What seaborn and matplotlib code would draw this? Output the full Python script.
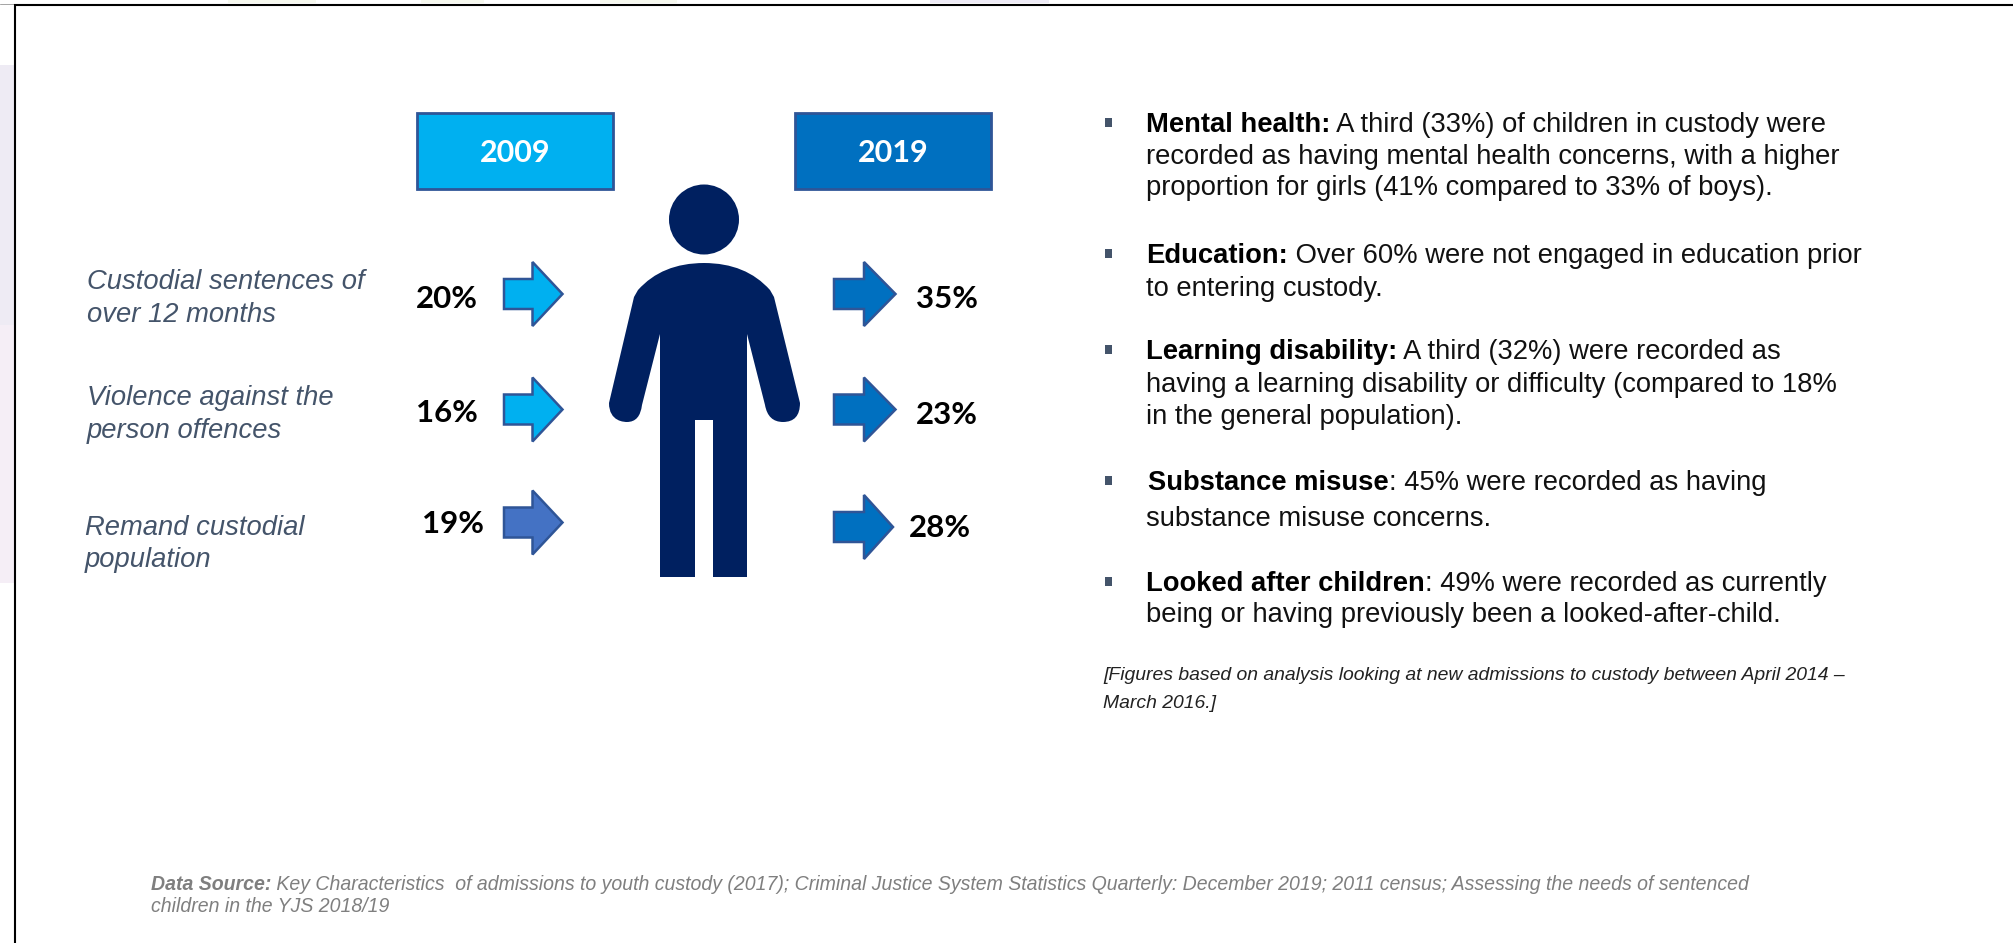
import matplotlib
matplotlib.use("Agg")
import matplotlib.pyplot as plt
from matplotlib.patches import Circle, PathPatch, Polygon, Rectangle
from matplotlib.path import Path
import seaborn as sns

# Custody profile figures
years = ["2009", "2019"]
row_labels = [
    ["Custodial sentences of", "over 12 months"],
    ["Violence against the", "person offences"],
    ["Remand custodial", "population"],
]
share_2009 = [20, 16, 19]
share_2019 = [35, 23, 28]

# Needs of children in custody: (bold lead, rest of line), then wrapped lines
needs_text = [
    [("Mental health:", " A third (33%) of children in custody were"),
     ("", "recorded as having mental health concerns, with a higher"),
     ("", "proportion for girls (41% compared to 33% of boys).")],
    [("Education:", " Over 60% were not engaged in education prior"),
     ("", "to entering custody.")],
    [("Learning disability:", " A third (32%) were recorded as"),
     ("", "having a learning disability or difficulty (compared to 18%"),
     ("", "in the general population).")],
    [("Substance misuse", ": 45% were recorded as having"),
     ("", "substance misuse concerns.")],
    [("Looked after children", ": 49% were recorded as currently"),
     ("", "being or having previously been a looked-after-child.")],
]
needs_y = [[124, 156, 187], [255, 288], [351, 384, 416], [482, 518], [583, 614]]
footnote = ["[Figures based on analysis looking at new admissions to custody between April 2014 \u2013",
            "March 2016.]"]
source_lead = "Data Source:"
source_lines = [" Key Characteristics  of admissions to youth custody (2017); Criminal Justice System Statistics Quarterly: December 2019; 2011 census; Assessing the needs of sentenced",
                "children in the YJS 2018/19"]

sns.set_theme(style="white")
plt.rcParams["font.family"] = ["Liberation Sans", "DejaVu Sans"]
light_blue, mid_blue, slate_blue, navy, edge_blue = sns.color_palette(
    ["#00B0F0", "#0070C0", "#4472C4", "#002060", "#2F5597"])

W, H = 2013, 943
fig = plt.figure(figsize=(W / 100, H / 100), dpi=100, facecolor="white")
ax = fig.add_axes([0, 0, 1, 1])
ax.set_xlim(0, W)
ax.set_ylim(H, 0)
ax.axis("off")
PX = 0.72  # points per pixel at this dpi


def write(x, y, s, size, **kw):
    kw.setdefault("va", "center")
    return ax.text(x, y, s, fontsize=size * PX, **kw)


def arrow(x0, x1, xm, yc, half, shaft, face):
    pts = [(x0, yc - shaft), (xm, yc - shaft), (xm, yc - half), (x1, yc),
           (xm, yc + half), (xm, yc + shaft), (x0, yc + shaft)]
    ax.add_patch(Polygon(pts, closed=True, facecolor=face, edgecolor=edge_blue, linewidth=1.8))


# Faint page behind the frame, then the frame itself
ax.add_patch(Rectangle((0, 65), 14, 260, facecolor="#EEEBF4", edgecolor="none"))
ax.add_patch(Rectangle((0, 325), 14, 258, facecolor="#F5EEF6", edgecolor="none"))
for x0, x1, tint in [(228, 316, "#F6F8EE"), (421, 484, "#F6F8EE"),
                     (600, 677, "#F6F8EE"), (930, 1049, "#EEEBF6")]:
    ax.add_patch(Rectangle((x0, 0), x1 - x0, 3, facecolor=tint, edgecolor="none"))
ax.plot([0, W], [3.5, 3.5], color="#A6A6A6", linewidth=0.72)
ax.plot([15, 15, W], [H, 5, 5], color="black", linewidth=1.5, solid_joinstyle="miter")

# Year headers
for x0, year, face in zip([417, 795], years, [light_blue, mid_blue]):
    ax.add_patch(Rectangle((x0, 113), 196, 76, facecolor=face, edgecolor=edge_blue, linewidth=2))
    write(x0 + 98, 153, year, 30.5, family="Lato", weight="bold", color="white", ha="center")

# Person icon
ax.add_patch(Circle((704, 219.5), 35, facecolor=navy, edgecolor="none"))
M, L, C3, C4, Z = Path.MOVETO, Path.LINETO, Path.CURVE3, Path.CURVE4, Path.CLOSEPOLY
body = [
    ((704, 263), M),
    ((662, 263), C3), ((638, 290), C3),
    ((634, 297), L), ((609, 403), L),
    ((609, 422), C4), ((625, 422), C4), ((627, 422), C4),
    ((640, 422), C3), ((642, 405), C3),
    ((660, 334), L), ((660, 577), L), ((695, 577), L), ((695, 420), L),
    ((713, 420), L), ((713, 577), L), ((747, 577), L), ((747, 334), L),
    ((765, 405), L),
    ((768, 422), C3), ((783, 422), C3),
    ((800, 422), C3), ((800, 403), C3),
    ((774, 297), L), ((770, 290), L),
    ((746, 263), C3), ((704, 263), C3),
    ((704, 263), Z),
]
ax.add_patch(PathPatch(Path([p for p, _ in body], [c for _, c in body]),
                       facecolor=navy, edgecolor="none"))

# Row labels, percentages and arrows
label_x = [87, 87, 85]
label_y = [(282, 315), (398, 431), (528, 560)]
for lines, x, ys in zip(row_labels, label_x, label_y):
    for line, y in zip(lines, ys):
        write(x, y, line, 27.4, style="italic", color="#44546A")

left_y = [294, 409.5, 522.5]
left_face = [light_blue, light_blue, slate_blue]
left_text = [(416, 299), (416, 413), (422, 524)]
for value, yc, face, (tx, ty) in zip(share_2009, left_y, left_face, left_text):
    arrow(504, 562.5, 532.5, yc, 32, 15, face)
    write(tx, ty, f"{value}%", 31.3, family="Lato", weight="bold", color="black")

right_y = [294, 409.5, 527]
right_tip = [895.5, 895.5, 893]
right_text = [(916, 299), (916, 415), (909, 528)]
for value, yc, tip, (tx, ty) in zip(share_2019, right_y, right_tip, right_text):
    arrow(834, tip, 864, yc, 32, 15, mid_blue)
    write(tx, ty, f"{value}%", 31.3, family="Lato", weight="bold", color="black")

# Bullet list on the right
fig.canvas.draw()
renderer = fig.canvas.get_renderer()
for block, ys in zip(needs_text, needs_y):
    ax.add_patch(Rectangle((1105, ys[0] - 6), 7, 9, facecolor="#44546A", edgecolor="none"))
    for (lead, rest), y in zip(block, ys):
        x = 1148 if lead == "Substance misuse" else 1146
        if lead:
            t = write(x, y + 8, lead, 27.4, weight="bold", color="black", va="baseline")
            x = t.get_window_extent(renderer).x1
        write(x, y + 8, rest, 27.4, color="#111111", va="baseline")

for line, y in zip(footnote, [676, 704]):
    write(1103, y, line, 19.4, style="italic", color="#222222")

# Source note
t = write(151, 884, source_lead, 19.55, style="italic", weight="bold", color="#7F7F7F")
write(t.get_window_extent(renderer).x1, 884, source_lines[0], 19.55, style="italic", color="#7F7F7F")
write(151, 906, source_lines[1], 19.55, style="italic", color="#7F7F7F")

fig.savefig("out.png", dpi=100, facecolor="white")
